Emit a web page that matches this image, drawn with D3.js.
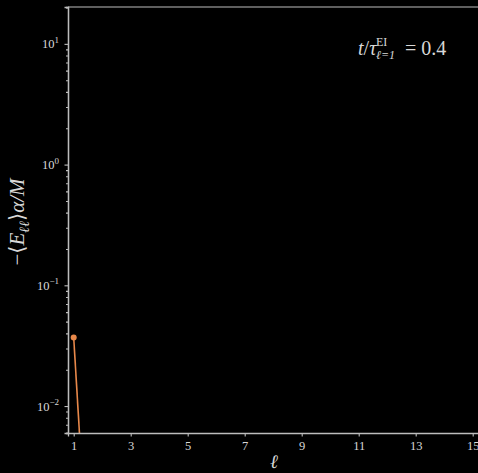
<!DOCTYPE html>
<html lang="en">
<head>
    <meta charset="UTF-8">
    <title>energy per ell</title>
    <script src="https://cdn.jsdelivr.net/npm/d3@7"></script>
    <style>
        body { margin: 0; background: #000; }
        svg text, svg tspan { font-family: "Liberation Serif", "DejaVu Serif", serif !important; fill: #d8d8d8; }
    </style>
</head>
<body>
<script type="text/javascript">
    // data
    var ells = [1, 2];
    var energy = [0.037, 4.5e-6];
    var xTicks = [1, 3, 5, 7, 9, 11, 13, 15];
    var yTicks = [1e-2, 1e-1, 1e0, 1e1];
    var yExp = ['\u22122', '\u22121', '0', '1'];

    var width = 478, height = 473;
    var margin = {top: 7, right: -0.4, bottom: 40, left: 68};
    var innerW = width - margin.left - margin.right;
    var innerH = height - margin.top - margin.bottom;

    var svg = d3.select('body').append('svg')
        .attr('width', width)
        .attr('height', height)
        .attr('font-family', 'Liberation Serif')
        .style('background', '#000');

    var g = svg.append('g')
        .attr('transform', 'translate(' + margin.left + ',' + margin.top + ')');

    var x = d3.scaleLinear().domain([0.8, 15.2]).range([0, innerW]);
    var y = d3.scaleLog().domain([0.00598, 20.2]).range([innerH, 0]);

    // clip for the data
    g.append('clipPath').attr('id', 'clip')
        .append('rect').attr('width', innerW).attr('height', innerH);

    var pts = ells.map(function (d, i) { return [d, energy[i]]; });

    var line = d3.line()
        .x(function (d) { return x(d[0]); })
        .y(function (d) { return y(d[1]); });

    var plot = g.append('g').attr('clip-path', 'url(#clip)');
    plot.append('path')
        .datum(pts)
        .attr('d', line)
        .attr('fill', 'none')
        .attr('stroke', '#e8884a')
        .attr('stroke-width', 1.6);
    plot.selectAll('circle')
        .data(pts)
        .enter().append('circle')
        .attr('cx', function (d) { return x(d[0]); })
        .attr('cy', function (d) { return y(d[1]); })
        .attr('r', 3)
        .attr('fill', '#e8884a');

    // minor log ticks on y
    var minor = [];
    [-3, -2, -1, 0, 1].forEach(function (e) {
        for (var k = 2; k <= 9; k++) {
            var v = k * Math.pow(10, e);
            if (v > y.domain()[0] && v < y.domain()[1]) minor.push(v);
        }
    });
    var yMinor = d3.axisLeft(y).tickValues(minor).tickSize(2).tickFormat('');
    g.append('g').attr('class', 'axis').call(yMinor);

    // major y axis, labels as 10^n
    var yAxis = d3.axisLeft(y).tickValues(yTicks).tickSize(3.5).tickFormat('');
    g.append('g').attr('class', 'axis').call(yAxis);
    yTicks.forEach(function (v, i) {
        var t = g.append('text')
            .attr('x', -9)
            .attr('y', y(v) + 4.5)
            .attr('text-anchor', 'end')
            .style('font-size', '12.5px');
        t.append('tspan').text('10');
        t.append('tspan').attr('dy', -5.5).style('font-size', '9px').text(yExp[i]);
    });

    // x axis
    var xAxis = d3.axisBottom(x).tickValues(xTicks).tickSize(3.5).tickPadding(3)
        .tickFormat(d3.format('d'));
    var xa = g.append('g').attr('class', 'axis')
        .attr('transform', 'translate(0,' + innerH + ')')
        .call(xAxis);
    xa.selectAll('text').style('font-size', '12.5px').attr('dy', '0.8em');

    // top spine
    g.append('line')
        .attr('x1', 0).attr('x2', innerW)
        .attr('y1', 0).attr('y2', 0)
        .attr('class', 'spine');

    g.selectAll('.axis').attr('font-family', null).attr('font-size', null);
    g.selectAll('.axis path, .axis line, .spine')
        .attr('stroke', '#bdbdbd')
        .attr('stroke-width', 1.1);
    g.selectAll('.axis .domain').attr('stroke-width', 1.3);

    // axis labels
    svg.append('text')
        .attr('x', 274)
        .attr('y', 468)
        .attr('text-anchor', 'middle')
        .style('font-size', '19px')
        .style('font-style', 'italic')
        .text('\u2113');

    var yl = svg.append('text')
        .attr('transform', 'translate(24,222) rotate(-90)')
        .attr('text-anchor', 'middle')
        .style('font-size', '21px');
    yl.append('tspan').text('\u2212\u27e8');
    yl.append('tspan').style('font-style', 'italic').text('E');
    yl.append('tspan').attr('dy', 5).style('font-size', '14px').style('font-style', 'italic').text('\u2113\u2113');
    yl.append('tspan').attr('dy', -5).text('\u27e9');
    yl.append('tspan').style('font-style', 'italic').text('\u03b1/M');

    // annotation t / tau^EI_{l=1} = 0.4
    var ann = svg.append('g');
    var a1 = ann.append('text').attr('x', 358).attr('y', 55).style('font-size', '20px');
    a1.append('tspan').style('font-style', 'italic').text('t');
    a1.append('tspan').text('/');
    a1.append('tspan').style('font-style', 'italic').text('\u03c4');
    ann.append('text').attr('x', 376).attr('y', 46).style('font-size', '12px').text('EI');
    ann.append('text').attr('x', 376).attr('y', 59).style('font-size', '12px')
        .style('font-style', 'italic').text('\u2113=1');
    ann.append('text').attr('x', 405).attr('y', 55).style('font-size', '20px').text('= 0.4');
</script>
</body>
</html>
